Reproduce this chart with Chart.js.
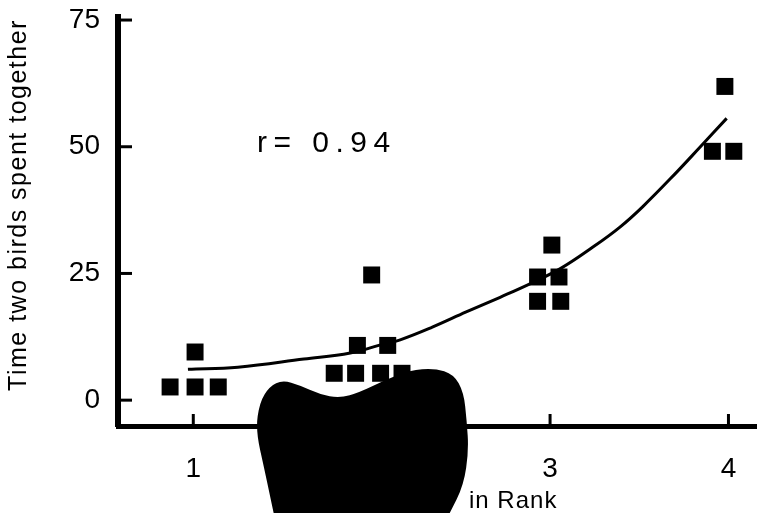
<!DOCTYPE html>
<html>
<head>
<meta charset="utf-8">
<script src="https://cdn.jsdelivr.net/npm/chart.js@4/dist/chart.umd.min.js"></script>
<style>
  html, body { margin: 0; padding: 0; background: #fff; }
  #wrap { width: 757px; height: 513px; }
</style>
</head>
<body>
<div id="wrap"><canvas id="chart"></canvas></div>
<script>
// 观测点（横：等级差，纵：两只鸟在一起的时间）
const pointX = [0.87, 1.01, 1.14, 1.01, 1.79, 1.91, 2.05, 2.17, 1.92, 2.09, 2.0, 2.93, 3.05, 2.93, 3.06, 3.01, 3.91, 4.03, 3.98];
const pointY = [2.6, 2.6, 2.6, 9.5, 5.3, 5.3, 5.3, 5.3, 10.8, 10.8, 24.7, 24.3, 24.3, 19.5, 19.5, 30.6, 49.1, 49.1, 61.9];

// 拟合曲线
const curveX = [0.97, 1.25, 1.62, 1.88, 2.06, 2.16, 2.34, 2.53, 2.72, 2.89, 3.06, 3.24, 3.39, 3.52, 3.71, 3.84, 3.99];
const curveY = [6.1, 6.5, 8.1, 9.3, 11.0, 11.9, 14.4, 17.4, 20.3, 23.0, 26.0, 30.2, 34.1, 38.2, 45.0, 49.9, 55.6];

// 刻度
const xTicks = [1, 2, 3, 4];
const yTicks = [0, 25, 50, 75];

const yTitle = 'Time two birds spent together';
const xTitle = 'in Rank';
const rText = 'r= 0.94';

const FONT = '"Liberation Sans", Arial, sans-serif';

/**
 * 画坐标轴内侧短刻度、文字和墨迹
 */
const decorPlugin = {
  id: 'decor',
  afterDraw(chart) {
    const { ctx, chartArea, scales } = chart;
    const xs = scales.x, ys = scales.y;
    ctx.save();
    ctx.strokeStyle = '#000';
    ctx.lineWidth = 3;
    // y 轴刻度（向右）
    yTicks.forEach(v => {
      const py = ys.getPixelForValue(v);
      ctx.beginPath();
      ctx.moveTo(chartArea.left, py);
      ctx.lineTo(chartArea.left + 14, py);
      ctx.stroke();
    });
    // x 轴刻度（向上）
    xTicks.forEach(v => {
      const px = xs.getPixelForValue(v);
      ctx.beginPath();
      ctx.moveTo(px, chartArea.bottom);
      ctx.lineTo(px, chartArea.bottom - 12);
      ctx.stroke();
    });

    ctx.fillStyle = '#000';
    // y 轴标题
    ctx.save();
    ctx.translate(19, 205);
    ctx.rotate(-Math.PI / 2);
    ctx.font = '25px ' + FONT;
    ctx.letterSpacing = '1.5px';
    ctx.textAlign = 'center';
    ctx.textBaseline = 'middle';
    ctx.fillText(yTitle, 0, 0);
    ctx.restore();

    // 相关系数
    ctx.font = '30px ' + FONT;
    ctx.letterSpacing = '6.5px';
    ctx.textAlign = 'left';
    ctx.textBaseline = 'alphabetic';
    ctx.fillText(rText, 257, 152);

    // x 轴标题
    ctx.font = '24px ' + FONT;
    ctx.letterSpacing = '1px';
    ctx.fillText(xTitle, 469, 508);
    ctx.letterSpacing = '0px';

    // 扫描件上的墨迹
    const cx = xs.getPixelForValue(2), cy = ys.getPixelForValue(0);
    const blob = [[-98, 113], [-107, 70], [-116, 30], [-112, 2], [-102, -14], [-89, -20], [-72, -15], [-52, -6],
      [-32, -2], [-12, -8], [13, -20], [38, -30], [63, -32], [82, -26], [92, -8], [95, 20], [97, 50], [92, 85], [78, 113]];
    ctx.beginPath();
    ctx.moveTo(cx + blob[0][0], cy + blob[0][1]);
    for (let i = 1; i < blob.length - 1; i++) {
      const mx = (blob[i][0] + blob[i + 1][0]) / 2, my = (blob[i][1] + blob[i + 1][1]) / 2;
      ctx.quadraticCurveTo(cx + blob[i][0], cy + blob[i][1], cx + mx, cy + my);
    }
    ctx.lineTo(cx + blob[blob.length - 1][0], cy + blob[blob.length - 1][1]);
    ctx.closePath();
    ctx.fill();
    ctx.restore();
  }
};

// 去掉刻度文字引起的额外边距
function zeroMargins(s) {
  s.paddingLeft = s.paddingRight = s.paddingTop = s.paddingBottom = 0;
}

new Chart(document.getElementById('chart'), {
  type: 'scatter',
  data: {
    datasets: [
      {
        label: 'fit',
        type: 'line',
        data: curveX.map((x, i) => ({ x, y: curveY[i] })),
        borderColor: '#000',
        borderWidth: 3,
        pointRadius: 0,
        tension: 0.4,
        fill: false
      },
      {
        label: 'observed',
        data: pointX.map((x, i) => ({ x, y: pointY[i] })),
        pointStyle: 'rect',
        pointRadius: 12,
        backgroundColor: '#000',
        borderColor: '#000',
        borderWidth: 0
      }
    ]
  },
  options: {
    responsive: true,
    maintainAspectRatio: false,
    animation: false,
    layout: { autoPadding: false, padding: { top: 17, right: 0, left: 0, bottom: 0 } },
    plugins: {
      legend: { display: false },
      tooltip: { enabled: false }
    },
    scales: {
      x: {
        type: 'linear',
        min: 0.578,
        max: 4.16,
        afterFit: s => { s.height = 87; zeroMargins(s); },
        afterBuildTicks: s => { s.ticks = xTicks.map(v => ({ value: v })); },
        grid: { display: false, drawTicks: false },
        border: { display: true, color: '#000', width: 5 },
        ticks: { color: '#000', font: { family: FONT, size: 28 }, padding: 26, maxRotation: 0 }
      },
      y: {
        min: -5.1,
        max: 75.6,
        afterFit: s => { s.width = 118; zeroMargins(s); },
        afterBuildTicks: s => { s.ticks = yTicks.map(v => ({ value: v })); },
        grid: { display: false, drawTicks: false },
        border: { display: true, color: '#000', width: 6 },
        ticks: { color: '#000', font: { family: FONT, size: 28 }, padding: 18 }
      }
    }
  },
  plugins: [decorPlugin]
});
</script>
</body>
</html>
